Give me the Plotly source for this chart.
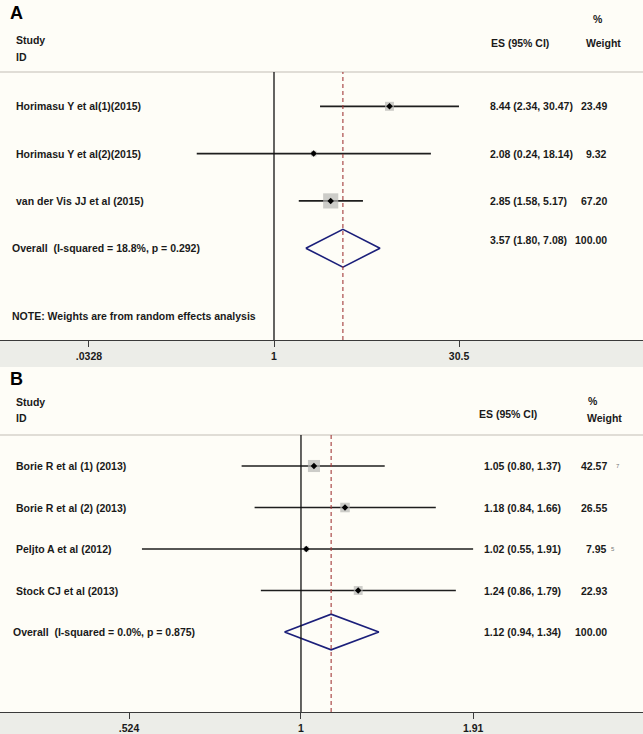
import plotly.graph_objects as go

# ---------------- data ----------------
studies_a = ["Horimasu Y et al(1)(2015)", "Horimasu Y et al(2)(2015)", "van der Vis JJ et al (2015)"]
es_a = [8.44, 2.08, 2.85]
lo_a = [2.34, 0.24, 1.58]
hi_a = [30.47, 18.14, 5.17]
wt_a = [23.49, 9.32, 67.20]
overall_a = [3.57, 1.80, 7.08]
overall_label_a = "Overall  (I-squared = 18.8%, p = 0.292)"
ticks_a = [0.0328, 1, 30.5]
ticklabels_a = [".0328", "1", "30.5"]

studies_b = ["Borie R et al (1) (2013)", "Borie R et al (2) (2013)", "Peljto A et al (2012)", "Stock CJ et al (2013)"]
es_b = [1.05, 1.18, 1.02, 1.24]
lo_b = [0.80, 0.84, 0.55, 0.86]
hi_b = [1.37, 1.66, 1.91, 1.79]
wt_b = [42.57, 26.55, 7.95, 22.93]
overall_b = [1.12, 0.94, 1.34]
overall_label_b = "Overall  (I-squared = 0.0%, p = 0.875)"
ticks_b = [0.524, 1, 1.91]
ticklabels_b = [".524", "1", "1.91"]

# ---------------- layout helpers ----------------
W, H = 643, 734
BG = "#FEFDF7"
BAND = "#ECEDE8"
FONT = "Liberation Sans"
TXT = "#1a1a1a"

def px(x):
    return x / W

def py(y):
    return 1 - y / H

fig = go.Figure()

panels = [
    dict(xa="x", ya="y", studies=studies_a, es=es_a, lo=lo_a, hi=hi_a, wt=wt_a,
         ov=overall_a, ovl=overall_label_a, ticks=ticks_a, tl=ticklabels_a,
         base=59, step=47.3, top=0, bottom=340, band_end=367, sep=72,
         xr=[-2.198, 2.960], dh=0.40, sq=1.85, letter="A",
         letter_y=13, study_y=40, id_y=57, es_hdr=(489, 43), pct=(598, 19), wgt=(603, 43),
         es_x=488, wt_x=609, lab_x=14, ov_x=10, ov_es_shift=-0.17,
         note=True),
    dict(xa="x2", ya="y2", studies=studies_b, es=es_b, lo=lo_b, hi=hi_b, wt=wt_b,
         ov=overall_b, ovl=overall_label_b, ticks=ticks_b, tl=ticklabels_b,
         base=424.5, step=41.5, top=367, bottom=712, band_end=734, sep=435,
         xr=[-0.4914, 0.5584], dh=0.43, sq=1.85, letter="B",
         letter_y=379, study_y=402, id_y=418, es_hdr=(477, 414), pct=(593, 401), wgt=(604, 418),
         es_x=482, wt_x=609, lab_x=14, ov_x=11, ov_es_shift=0.0,
         note=False),
]

annotations = []
shapes = []

for i, p in enumerate(panels):
    n = len(p["studies"])
    rows = list(range(1, n + 1))
    ov_row = n + 1
    yref = p["ya"]

    # CI lines
    xs, ys = [], []
    for r, l, h in zip(rows, p["lo"], p["hi"]):
        xs += [l, h, None]
        ys += [r, r, None]
    fig.add_trace(go.Scatter(x=xs, y=ys, mode="lines", line=dict(color="#1e1e1e", width=1.7),
                             xaxis=p["xa"], yaxis=p["ya"], hoverinfo="skip", showlegend=False))
    # weight squares
    sizes = [p["sq"] * (w ** 0.5) for w in p["wt"]]
    fig.add_trace(go.Scatter(x=p["es"], y=rows, mode="markers",
                             marker=dict(symbol="square", size=sizes, color="#B6B6B3", line=dict(width=0)),
                             xaxis=p["xa"], yaxis=p["ya"], hoverinfo="skip", showlegend=False))
    # point estimates
    fig.add_trace(go.Scatter(x=p["es"], y=rows, mode="markers",
                             marker=dict(symbol="diamond", size=5, color="#000000"),
                             xaxis=p["xa"], yaxis=p["ya"], hoverinfo="skip", showlegend=False))
    # overall diamond
    est, olo, ohi = p["ov"]
    fig.add_trace(go.Scatter(x=[olo, est, ohi, est, olo],
                             y=[ov_row, ov_row - p["dh"], ov_row, ov_row + p["dh"], ov_row],
                             mode="lines", line=dict(color="#1B1F7A", width=1.6),
                             xaxis=p["xa"], yaxis=p["ya"], hoverinfo="skip", showlegend=False))

    # background band + separator
    shapes.append(dict(type="rect", xref="paper", yref="paper", x0=0, x1=1,
                       y0=py(p["band_end"]), y1=py(p["bottom"]), fillcolor=BAND, line=dict(width=0),
                       layer="below"))
    shapes.append(dict(type="line", xref="paper", yref="paper", x0=0, x1=1,
                       y0=py(p["sep"]), y1=py(p["sep"]), line=dict(color="#D6D2CB", width=1.5)))
    # null line
    shapes.append(dict(type="line", xref=p["xa"], yref="paper", x0=1, x1=1,
                       y0=py(p["bottom"]), y1=py(p["sep"]), line=dict(color="#111111", width=1.3)))
    # overall dashed line
    shapes.append(dict(type="line", xref=p["xa"], yref="paper", x0=est, x1=est,
                       y0=py(p["bottom"]), y1=py(p["sep"]),
                       line=dict(color="#A33A3A", width=1.1, dash="4px,3px")))

    def ann(text, x, y, xanchor="left", size=10.5, color=TXT, yr="paper"):
        annotations.append(dict(text=text, x=x, y=y, xref="paper", yref=yr, xanchor=xanchor,
                                yanchor="middle", showarrow=False,
                                font=dict(family=FONT, size=size, color=color, weight="bold")))

    ann(p["letter"], px(8), py(p["letter_y"]), size=18, color="#000000")
    ann("Study", px(p["lab_x"]), py(p["study_y"]))
    ann("ID", px(p["lab_x"]), py(p["id_y"]))
    ann("ES (95% CI)", px(p["es_hdr"][0]), py(p["es_hdr"][1]))
    ann("%", px(p["pct"][0]), py(p["pct"][1]), xanchor="center")
    ann("Weight", px(p["wgt"][0]), py(p["wgt"][1]), xanchor="center")

    for r, s, e, l, h, w in zip(rows, p["studies"], p["es"], p["lo"], p["hi"], p["wt"]):
        ann(s, px(p["lab_x"]), r, yr=yref)
        ann(f"{e:.2f} ({l:.2f}, {h:.2f})", px(p["es_x"]), r, yr=yref)
        ann(f"{w:.2f}", px(p["wt_x"]), r, xanchor="right", yr=yref)
    ann(p["ovl"], px(p["ov_x"]), ov_row, yr=yref)
    ann(f"{est:.2f} ({olo:.2f}, {ohi:.2f})", px(p["es_x"]), ov_row + p["ov_es_shift"], yr=yref)
    ann("100.00", px(p["wt_x"]), ov_row + p["ov_es_shift"], xanchor="right", yr=yref)
    if p["note"]:
        ann("NOTE: Weights are from random effects analysis", px(10), py(316))

# small stray glyphs visible in panel B
annotations.append(dict(text="7", x=px(618), y=1, xref="paper", yref="y2", showarrow=False,
                        xanchor="center", font=dict(family=FONT, size=6, color="#777777")))
annotations.append(dict(text="5", x=px(613), y=3, xref="paper", yref="y2", showarrow=False,
                        xanchor="center", font=dict(family=FONT, size=6, color="#777777")))

ya_range = [(340 - 59) / 47.3, (0 - 59) / 47.3]
yb_range = [(712 - 424.5) / 41.5, (367 - 424.5) / 41.5]

common_x = dict(type="log", showgrid=False, zeroline=False, showline=True, linecolor="#3a3a3a",
                linewidth=1, ticks="outside", ticklen=6, tickcolor="#3a3a3a", tickwidth=1,
                tickfont=dict(family=FONT, size=10.5, color=TXT, weight="bold"), fixedrange=True)
common_y = dict(visible=False, showgrid=False, zeroline=False, fixedrange=True)

fig.update_layout(
    width=W, height=H, margin=dict(l=0, r=0, t=0, b=0),
    paper_bgcolor=BG, plot_bgcolor=BG, showlegend=False,
    xaxis=dict(common_x, domain=[0, 1], anchor="y", range=panels[0]["xr"],
               tickvals=ticks_a, ticktext=ticklabels_a),
    yaxis=dict(common_y, domain=[py(340), 1], range=ya_range, anchor="x"),
    xaxis2=dict(common_x, domain=[0, 1], anchor="y2", range=panels[1]["xr"],
                tickvals=ticks_b, ticktext=ticklabels_b),
    yaxis2=dict(common_y, domain=[py(712), py(367)], range=yb_range, anchor="x2"),
    shapes=shapes, annotations=annotations,
)

fig.write_html("out.html", config=dict(displayModeBar=False),
               post_script="document.body.style.margin='0';document.body.style.overflow='hidden';")
